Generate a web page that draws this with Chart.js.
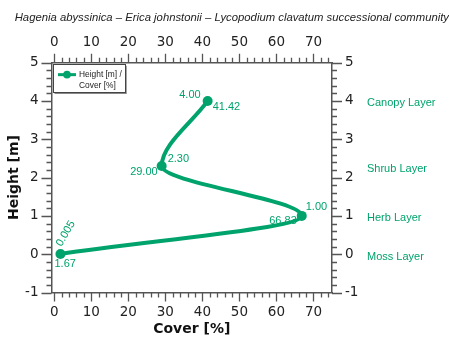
<!DOCTYPE html>
<html>
<head>
<meta charset="utf-8">
<script src="https://cdn.jsdelivr.net/npm/chart.js@4/dist/chart.umd.min.js"></script>
<style>
  html, body { margin: 0; padding: 0; background: #fff; }
</style>
</head>
<body>
<canvas id="chart" width="449" height="338"></canvas>
<script>
// data
const heights = [0.005, 1.00, 2.30, 4.00];          // Height [m]
const covers = [1.67, 66.83, 29.00, 41.42];         // Cover [%]
const heightText = ['0.005', '1.00', '2.30', '4.00'];
const coverText = ['1.67', '66.83', '29.00', '41.42'];
const layerNames = ['Moss Layer', 'Herb Layer', 'Shrub Layer', 'Canopy Layer'];
const coverTicks = [0, 10, 20, 30, 40, 50, 60, 70];
const heightTicks = [-1, 0, 1, 2, 3, 4, 5];

const GREEN = '#00a36c';
const AXIS = '#555';
const TICK_FONT = { family: 'DejaVu Sans', size: 13.5 };

// where the value labels sit around each point (px offsets)
const heightLabelPos = [
  { dx: 1, dy: -7, align: 'left', rotate: -60 },
  { dx: 4, dy: -9, align: 'left' },
  { dx: 6, dy: -7, align: 'left' },
  { dx: -7, dy: -6, align: 'right' }
];
const coverLabelPos = [
  { dx: -6, dy: 10, align: 'left' },
  { dx: -5, dy: 5, align: 'right' },
  { dx: -4, dy: 6, align: 'right' },
  { dx: 5, dy: 6, align: 'left' }
];

// minor + major tick marks pointing outwards on all four sides
const tickMarks = {
  id: 'tickMarks',
  afterDraw(chart) {
    const ctx = chart.ctx;
    const { left, right, top, bottom } = chart.chartArea;
    const xs = chart.scales.x, ys = chart.scales.y;
    ctx.save();
    ctx.strokeStyle = AXIS;
    ctx.lineWidth = 1.3;
    ctx.beginPath();
    for (let k = 0; k * 2 <= xs.max; k++) {
      const px = Math.round(xs.getPixelForValue(k * 2)) + 0.5;
      const len = k % 5 === 0 ? 9 : 5;
      ctx.moveTo(px, bottom); ctx.lineTo(px, bottom + len);
      ctx.moveTo(px, top); ctx.lineTo(px, top - len);
    }
    for (let k = -5; k <= 25; k++) {
      const py = Math.round(ys.getPixelForValue(k * 0.2)) + 0.5;
      const len = k % 5 === 0 ? 10 : 5;
      ctx.moveTo(left, py); ctx.lineTo(left - len, py);
      ctx.moveTo(right, py); ctx.lineTo(right + len, py);
    }
    ctx.stroke();
    ctx.restore();
  }
};

// value labels + layer names
const pointLabels = {
  id: 'pointLabels',
  afterDatasetsDraw(chart) {
    const ctx = chart.ctx;
    const pts = chart.getDatasetMeta(0).data;
    const ys = chart.scales.y;
    ctx.save();
    ctx.fillStyle = GREEN;
    ctx.font = '11px "Liberation Sans", Arial, sans-serif';
    ctx.textBaseline = 'middle';
    pts.forEach((p, i) => {
      const h = heightLabelPos[i];
      if (h.rotate) {
        ctx.save();
        ctx.translate(p.x + h.dx, p.y + h.dy);
        ctx.rotate(h.rotate * Math.PI / 180);
        ctx.textAlign = 'left';
        ctx.textBaseline = 'alphabetic';
        ctx.fillText(heightText[i], 0, 0);
        ctx.restore();
      } else {
        ctx.textAlign = h.align;
        ctx.fillText(heightText[i], p.x + h.dx, p.y + h.dy);
      }
      const c = coverLabelPos[i];
      ctx.textAlign = c.align;
      ctx.fillText(coverText[i], p.x + c.dx, p.y + c.dy);
    });
    ctx.textAlign = 'left';
    layerNames.forEach((name, i) => {
      ctx.fillText(name, 367, ys.getPixelForValue(heights[i]) + 2.5);
    });
    ctx.restore();
  }
};

// boxed legend in the top-left corner of the plot
const boxLegend = {
  id: 'boxLegend',
  afterDraw(chart) {
    const ctx = chart.ctx;
    const { left, top } = chart.chartArea;
    const x = left + 1.5, y = top + 1.5, w = 72, h = 28;
    ctx.save();
    ctx.fillStyle = '#fff';
    ctx.fillRect(x, y, w, h);
    ctx.strokeStyle = '#888';
    ctx.lineWidth = 1.5;
    ctx.beginPath();
    ctx.moveTo(x + w + 1, y + 1.5); ctx.lineTo(x + w + 1, y + h + 1); ctx.lineTo(x + 1.5, y + h + 1);
    ctx.stroke();
    ctx.strokeStyle = '#444';
    ctx.lineWidth = 1;
    ctx.strokeRect(Math.round(x) + 0.5, Math.round(y) + 0.5, w, h);
    const ly = y + 10.5;
    ctx.strokeStyle = GREEN;
    ctx.lineWidth = 3;
    ctx.beginPath();
    ctx.moveTo(x + 5, ly); ctx.lineTo(x + 23, ly);
    ctx.stroke();
    ctx.fillStyle = GREEN;
    ctx.beginPath();
    ctx.arc(x + 14, ly, 3.8, 0, Math.PI * 2);
    ctx.fill();
    ctx.fillStyle = '#222';
    ctx.font = '8.4px "Liberation Sans", Arial, sans-serif';
    ctx.textBaseline = 'middle';
    ctx.fillText('Height [m] /', x + 26, ly);
    ctx.fillText('Cover [%]', x + 26, ly + 11);
    ctx.restore();
  }
};

function xAxis(position, height, withTitle) {
  return {
    type: 'linear',
    position: position,
    min: -0.75,
    max: 75,
    afterBuildTicks: s => { s.ticks = coverTicks.map(v => ({ value: v })); },
    afterFit: s => { s.height = height; },
    grid: { drawOnChartArea: false, tickLength: 9, tickColor: 'rgba(0,0,0,0)' },
    border: { color: AXIS, width: 1.5 },
    ticks: { font: TICK_FONT, color: '#222', padding: 3, maxRotation: 0, autoSkip: false },
    title: {
      display: withTitle,
      text: 'Cover [%]',
      color: '#111',
      font: { family: 'DejaVu Sans', weight: 'bold', size: 14 },
      padding: { top: 0, bottom: 0 }
    }
  };
}

function yAxis(position, width, withTitle) {
  return {
    type: 'linear',
    position: position,
    min: -1,
    max: 5,
    afterBuildTicks: s => { s.ticks = heightTicks.map(v => ({ value: v })); },
    afterFit: s => { s.width = width; },
    grid: { drawOnChartArea: false, tickLength: 10, tickColor: 'rgba(0,0,0,0)' },
    border: { color: AXIS, width: 1.5 },
    ticks: { font: TICK_FONT, color: '#222', padding: 3, autoSkip: false },
    title: {
      display: withTitle,
      text: 'Height [m]',
      color: '#111',
      font: { family: 'DejaVu Sans', weight: 'bold', size: 14 },
      padding: { top: 6, bottom: 0 }
    }
  };
}

new Chart(document.getElementById('chart'), {
  type: 'line',
  data: {
    datasets: [{
      label: 'Height [m] / Cover [%]',
      data: covers.map((c, i) => ({ x: c, y: heights[i] })),
      xAxisID: 'x',
      yAxisID: 'y',
      borderColor: GREEN,
      backgroundColor: GREEN,
      borderWidth: 4,
      pointRadius: 5,
      pointBackgroundColor: GREEN,
      pointBorderWidth: 0,
      cubicInterpolationMode: 'monotone',
      clip: false
    }]
  },
  options: {
    responsive: false,
    animation: false,
    indexAxis: 'y',
    layout: { padding: 0 },
    scales: {
      x: xAxis('bottom', 45.5, true),
      x2: xAxis('top', 32.1, false),
      y: yAxis('left', 51.5, true),
      y2: yAxis('right', 117, false)
    },
    plugins: {
      title: {
        display: true,
        align: 'end',
        text: 'Hagenia abyssinica – Erica johnstonii – Lycopodium clavatum successional community',
        color: '#222',
        font: { family: 'Liberation Sans', style: 'italic', weight: 'normal', size: 11.3 },
        padding: { top: 11, bottom: 6 }
      },
      legend: { display: false },
      tooltip: { enabled: false }
    }
  },
  plugins: [tickMarks, pointLabels, boxLegend]
});
</script>
</body>
</html>
